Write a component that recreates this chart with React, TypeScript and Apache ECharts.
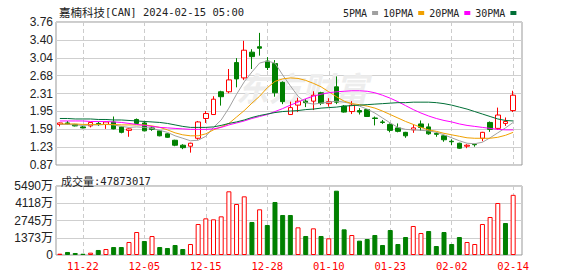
import React, { useEffect, useRef } from "react";
import * as echarts from "echarts";

const dates = [
  "11-17","11-20","11-21","11-22","11-24","11-27","11-28","11-29","11-30",
  "12-01","12-04","12-05","12-06","12-07","12-08","12-11","12-12","12-13","12-14","12-15",
  "12-18","12-19","12-20","12-21","12-22","12-26","12-27","12-28","12-29",
  "01-02","01-03","01-04","01-05","01-08","01-09","01-10","01-11","01-12","01-16","01-17",
  "01-18","01-19","01-22","01-23","01-24","01-25","01-26","01-29","01-30","01-31",
  "02-01","02-02","02-05","02-06","02-07","02-08","02-09","02-12","02-13","02-14",
];
const shownDates = ["11-22","12-05","12-15","12-28","01-10","01-23","02-02","02-14"];

const opens = [1.69,1.72,1.69,1.64,1.66,1.71,1.69,1.74,1.64,1.57,1.79,1.72,1.62,1.56,1.50,1.37,1.27,1.25,1.41,1.81,1.89,2.35,2.35,2.94,2.63,3.15,3.26,2.97,2.92,2.54,1.89,2.08,2.16,2.16,2.33,2.11,2.45,2.06,1.95,1.97,1.99,1.82,1.74,1.69,1.62,1.53,1.58,1.70,1.64,1.51,1.46,1.35,1.31,1.25,1.285,1.41,1.73,1.61,1.71,1.97];
const closes = [1.72,1.70,1.66,1.62,1.73,1.69,1.74,1.60,1.53,1.60,1.71,1.56,1.59,1.46,1.43,1.27,1.22,1.31,1.74,1.91,2.20,2.25,2.59,2.61,3.19,3.06,3.23,2.84,2.33,2.15,2.03,2.16,2.13,2.28,2.12,2.15,2.14,1.94,2.08,1.94,1.85,1.81,1.73,1.57,1.55,1.46,1.62,1.63,1.50,1.49,1.38,1.34,1.21,1.27,1.28,1.53,1.59,1.88,1.75,2.28];
const lows = [1.65,1.69,1.65,1.61,1.63,1.66,1.60,1.59,1.51,1.44,1.70,1.55,1.56,1.45,1.42,1.25,1.19,1.12,1.38,1.72,1.88,2.07,2.32,2.44,2.59,2.81,3.08,2.79,2.25,2.10,1.88,1.94,2.04,1.98,2.08,2.05,2.10,1.93,1.90,1.89,1.84,1.67,1.70,1.53,1.53,1.42,1.52,1.56,1.48,1.44,1.34,1.27,1.20,1.21,1.24,1.35,1.54,1.58,1.66,1.94];
const highs = [1.73,1.76,1.70,1.66,1.74,1.74,1.75,1.85,1.65,1.61,1.81,1.75,1.65,1.57,1.51,1.38,1.29,1.32,1.76,1.96,2.26,2.37,2.81,3.03,3.38,3.21,3.54,3.05,2.99,2.56,2.15,2.23,2.20,2.36,2.35,2.22,2.66,2.08,2.16,2.02,2.00,1.85,1.78,1.71,1.71,1.54,1.69,1.77,1.71,1.53,1.47,1.39,1.32,1.29,1.30,1.54,1.75,2.03,1.83,2.37];

// volume in 万 (10k shares)
const volumes = [105,240,160,100,185,400,475,635,635,1035,1830,1115,1510,635,557,795,477,875,2467,2917,2838,3076,5068,4058,4668,2626,3634,2387,4217,3183,3183,2201,1512,2122,1512,1326,5117,2042,1591,1141,1273,1591,796,1989,875,1432,2308,1751,1910,716,1830,875,1432,1034,875,2467,3024,4138,2546,4787];

const ma5 = [1.69,1.69,1.68,1.67,1.68,1.68,1.69,1.68,1.65,1.63,1.64,1.63,1.61,1.57,1.53,1.46,1.41,1.36,1.37,1.45,1.63,1.78,2.02,2.30,2.55,2.75,2.93,2.97,2.93,2.69,2.47,2.26,2.13,2.10,2.12,2.14,2.16,2.14,2.11,2.06,2.00,1.92,1.82,1.72,1.63,1.59,1.58,1.57,1.56,1.53,1.48,1.42,1.36,1.31,1.30,1.33,1.42,1.52,1.62,1.73];
const ma10 = [1.70,1.70,1.70,1.69,1.69,1.69,1.69,1.69,1.68,1.68,1.68,1.68,1.66,1.63,1.58,1.52,1.48,1.46,1.46,1.50,1.58,1.64,1.71,1.84,1.97,2.12,2.26,2.43,2.56,2.61,2.63,2.62,2.58,2.52,2.45,2.35,2.25,2.16,2.11,2.09,2.06,2.02,1.96,1.89,1.82,1.75,1.69,1.63,1.58,1.55,1.51,1.48,1.45,1.42,1.41,1.41,1.41,1.43,1.47,1.53];
const ma20 = [1.76,1.76,1.76,1.76,1.75,1.75,1.75,1.74,1.73,1.71,1.69,1.67,1.65,1.63,1.62,1.61,1.60,1.59,1.59,1.59,1.60,1.63,1.68,1.72,1.76,1.81,1.85,1.89,1.95,2.01,2.08,2.14,2.21,2.26,2.30,2.33,2.35,2.36,2.37,2.37,2.36,2.33,2.28,2.22,2.15,2.07,1.99,1.92,1.86,1.81,1.77,1.74,1.70,1.67,1.65,1.63,1.61,1.59,1.58,1.58];
const ma30 = [1.81,1.81,1.80,1.80,1.80,1.79,1.79,1.78,1.78,1.77,1.76,1.75,1.74,1.73,1.71,1.68,1.65,1.63,1.63,1.63,1.64,1.67,1.71,1.74,1.78,1.83,1.87,1.90,1.93,1.95,1.96,1.97,1.99,2.00,2.02,2.03,2.04,2.06,2.07,2.08,2.09,2.10,2.11,2.12,2.13,2.13,2.14,2.14,2.14,2.13,2.11,2.08,2.04,2.00,1.95,1.90,1.85,1.80,1.77,1.76];

const priceTickLabels = ["0.87","1.23","1.59","1.95","2.31","2.68","3.04","3.40","3.76"];
const priceMin = 0.87;
const priceMax = 3.76;
const volumeMax = 5490;
const latestVolume = 47873017;
const stockName = "嘉楠科技";
const stockCode = "[CAN]";
const stamp = "2024-02-15 05:00";

const maNames = ["5PMA", "10PMA", "20PMA", "30PMA"];
const maColors = ["#a0a0a0", "#f0a000", "#ff00ff", "#006f37"];
const maData = [ma5, ma10, ma20, ma30];

const RED = "#ff0000";
const GREEN = "#008000";
const MONO = '"DejaVu Sans Mono", "Noto Sans CJK SC", monospace';
const SANS = '"Liberation Sans", "Noto Sans CJK SC", sans-serif';
const CJK = '"Noto Sans CJK SC", sans-serif';

const L = 56;
const FULLW = 466;
const DATAW = 461;
const MAIN_TOP = 22;
const MAIN_H = 143;
const VOL_TOP = 186;
const VOL_H = 69;

export default function App() {
  const ref = useRef<HTMLDivElement>(null);
  useEffect(() => {
    document.body.style.margin = "0";
    if (!ref.current) return;
    const chart = echarts.init(ref.current, undefined, { renderer: "svg" });

    const candleData = dates.map((_, i) => [opens[i], closes[i], lows[i], highs[i]]);
    const volData = volumes.map((v, i) => {
      const up = i === 0 ? closes[i] >= opens[i] : closes[i] >= closes[i - 1];
      return {
        value: v,
        itemStyle: up
          ? { color: "#ffffff", borderColor: RED, borderWidth: 1 }
          : { color: GREEN, borderColor: GREEN, borderWidth: 1 },
      };
    });

    const showDate = (_: number, v: string) => shownDates.includes(v);
    const dashed = { show: true, interval: showDate, alignWithLabel: true, lineStyle: { color: "#cccccc", type: [4, 3], width: 1 } };

    const option: any = {
      animation: false,
      title: [
        {
          text: `{a|${stockName}}{b|${stockCode} ${stamp}}`,
          left: 54,
          top: 1,
          textStyle: {
            fontWeight: "normal",
            rich: {
              a: { fontFamily: CJK, fontSize: 11.5, color: "#222", fontWeight: "normal" },
              b: { fontFamily: MONO, fontSize: 10.5, color: "#222", fontWeight: "normal" },
            },
          },
        },
        {
          text: `{a|成交量}{b|:${latestVolume}}`,
          left: 56,
          top: 170,
          textStyle: {
            fontWeight: "normal",
            rich: {
              a: { fontFamily: CJK, fontSize: 11, color: "#222", fontWeight: "normal" },
              b: { fontFamily: MONO, fontSize: 10.5, color: "#222", fontWeight: "normal" },
            },
          },
        },
      ],
      legend: {
        data: maNames.map((n) => ({ name: n, icon: "rect" })),
        left: 338,
        top: 3,
        align: "right",
        itemWidth: 6,
        itemHeight: 4,
        itemGap: 5,
        selectedMode: false,
        textStyle: { fontFamily: MONO, fontSize: 10, color: "#222", padding: 0 },
      },
      graphic: [
        {
          type: "text",
          left: 236,
          top: 70,
          z: 1,
          style: {
            text: "东方财富",
            fontFamily: CJK,
            fontSize: 33,
            fontWeight: "bold",
            fontStyle: "italic",
            fill: "#ededed",
          },
        },
      ],
      grid: [
        { left: L, top: MAIN_TOP, width: FULLW, height: MAIN_H, show: true, borderColor: "#999", borderWidth: 1, backgroundColor: "transparent" },
        { left: L, top: MAIN_TOP, width: DATAW, height: MAIN_H },
        { left: L, top: VOL_TOP, width: FULLW, height: VOL_H, show: true, borderColor: "#999", borderWidth: 1, backgroundColor: "transparent" },
        { left: L, top: VOL_TOP, width: DATAW, height: VOL_H },
      ],
      xAxis: [
        { type: "value", gridIndex: 0, min: 0, max: 1, show: false },
        {
          type: "category", gridIndex: 1, data: dates, boundaryGap: true,
          axisLine: { show: false }, axisTick: { show: false }, axisLabel: { show: false },
          splitLine: dashed,
        },
        { type: "value", gridIndex: 2, min: 0, max: 1, show: false },
        {
          type: "category", gridIndex: 3, data: dates, boundaryGap: true,
          axisLine: { show: false }, axisTick: { show: false },
          axisLabel: { show: true, interval: showDate, color: RED, fontFamily: MONO, fontSize: 10.5, margin: 6 },
          splitLine: dashed,
        },
      ],
      yAxis: [
        {
          type: "value", gridIndex: 0, min: 0, max: priceTickLabels.length - 1, interval: 1,
          axisLine: { show: false }, axisTick: { show: false },
          axisLabel: { formatter: (v: number) => priceTickLabels[Math.round(v)] ?? "", color: "#222", fontFamily: SANS, fontSize: 12, margin: 3 },
          splitLine: { show: true, lineStyle: { color: "#cfcfcf", width: 1 } },
        },
        { type: "value", gridIndex: 1, min: priceMin, max: priceMax, show: false, scale: true },
        {
          type: "value", gridIndex: 2, min: 0, max: volumeMax, interval: volumeMax / 4,
          axisLine: { show: false }, axisTick: { show: false },
          axisLabel: { formatter: (v: number) => (v === 0 ? "0" : `${Math.round(v)}万`), color: "#222", fontFamily: SANS, fontSize: 12, margin: 3 },
          splitLine: { show: true, lineStyle: { color: "#cfcfcf", width: 1 } },
        },
        { type: "value", gridIndex: 3, min: 0, max: volumeMax, show: false },
      ],
      series: [
        {
          type: "candlestick",
          name: "K",
          xAxisIndex: 1,
          yAxisIndex: 1,
          data: candleData,
          barWidth: 5,
          itemStyle: { color: "#ffffff", color0: GREEN, borderColor: RED, borderColor0: GREEN, borderWidth: 1 },
          z: 3,
        },
        ...maNames.map((n, k) => ({
          type: "line",
          name: n,
          xAxisIndex: 1,
          yAxisIndex: 1,
          data: maData[k],
          color: maColors[k],
          showSymbol: false,
          symbol: "none",
          lineStyle: { color: maColors[k], width: 1 },
          z: 4,
        })),
        {
          type: "bar",
          name: "VOL",
          xAxisIndex: 3,
          yAxisIndex: 3,
          data: volData,
          barWidth: 5,
          z: 3,
        },
      ],
    };
    chart.setOption(option);
    return () => chart.dispose();
  }, []);
  return <div ref={ref} style={{ width: 578, height: 276 }} />;
}
